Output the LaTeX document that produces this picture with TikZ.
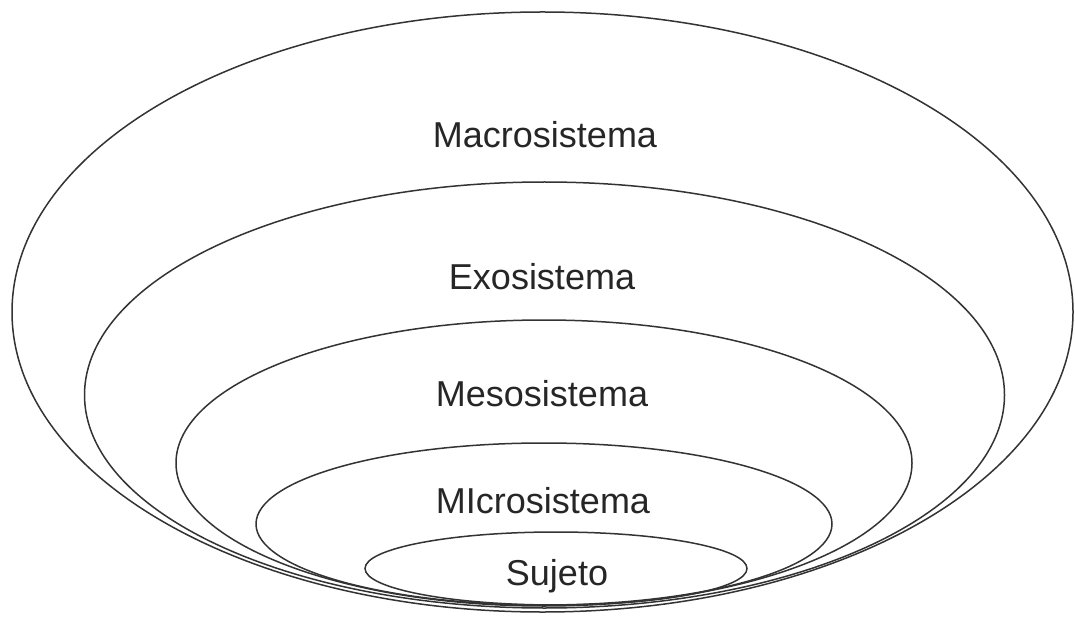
\documentclass[tikz,border=0pt]{standalone}
\usepackage{fontspec}
\setmainfont{Liberation Sans}
\begin{document}
\begin{tikzpicture}[x=1pt,y=-1pt,
  ring/.style={draw=black!80, line width=1.5pt},
  lbl/.style={font=\fontsize{36}{42}\selectfont, text=black!85, inner sep=0pt}]
\useasboundingbox (0,0) rectangle (1075,617);
\fill[white] (0,0) rectangle (1075,617);
\draw[ring] (542.5,312) ellipse [x radius=530.5pt, y radius=300pt];
\draw[ring] (544.5,395) ellipse [x radius=460pt, y radius=213pt];
\draw[ring] (544,463) ellipse [x radius=368pt, y radius=143pt];
\draw[ring] (544,524) ellipse [x radius=288pt, y radius=81pt];
\draw[ring] (556,568.5) ellipse [x radius=191pt, y radius=36.5pt];
\node[lbl] (macro) at (545,135) {Macrosistema};
\node[lbl] (exo) at (542,277) {Exosistema};
\node[lbl] (meso) at (542,394) {Mesosistema};
\node[lbl] (micro) at (543,501) {MIcrosistema};
\node[lbl] (suj) at (557,576) {Sujeto};
\end{tikzpicture}
\end{document}
